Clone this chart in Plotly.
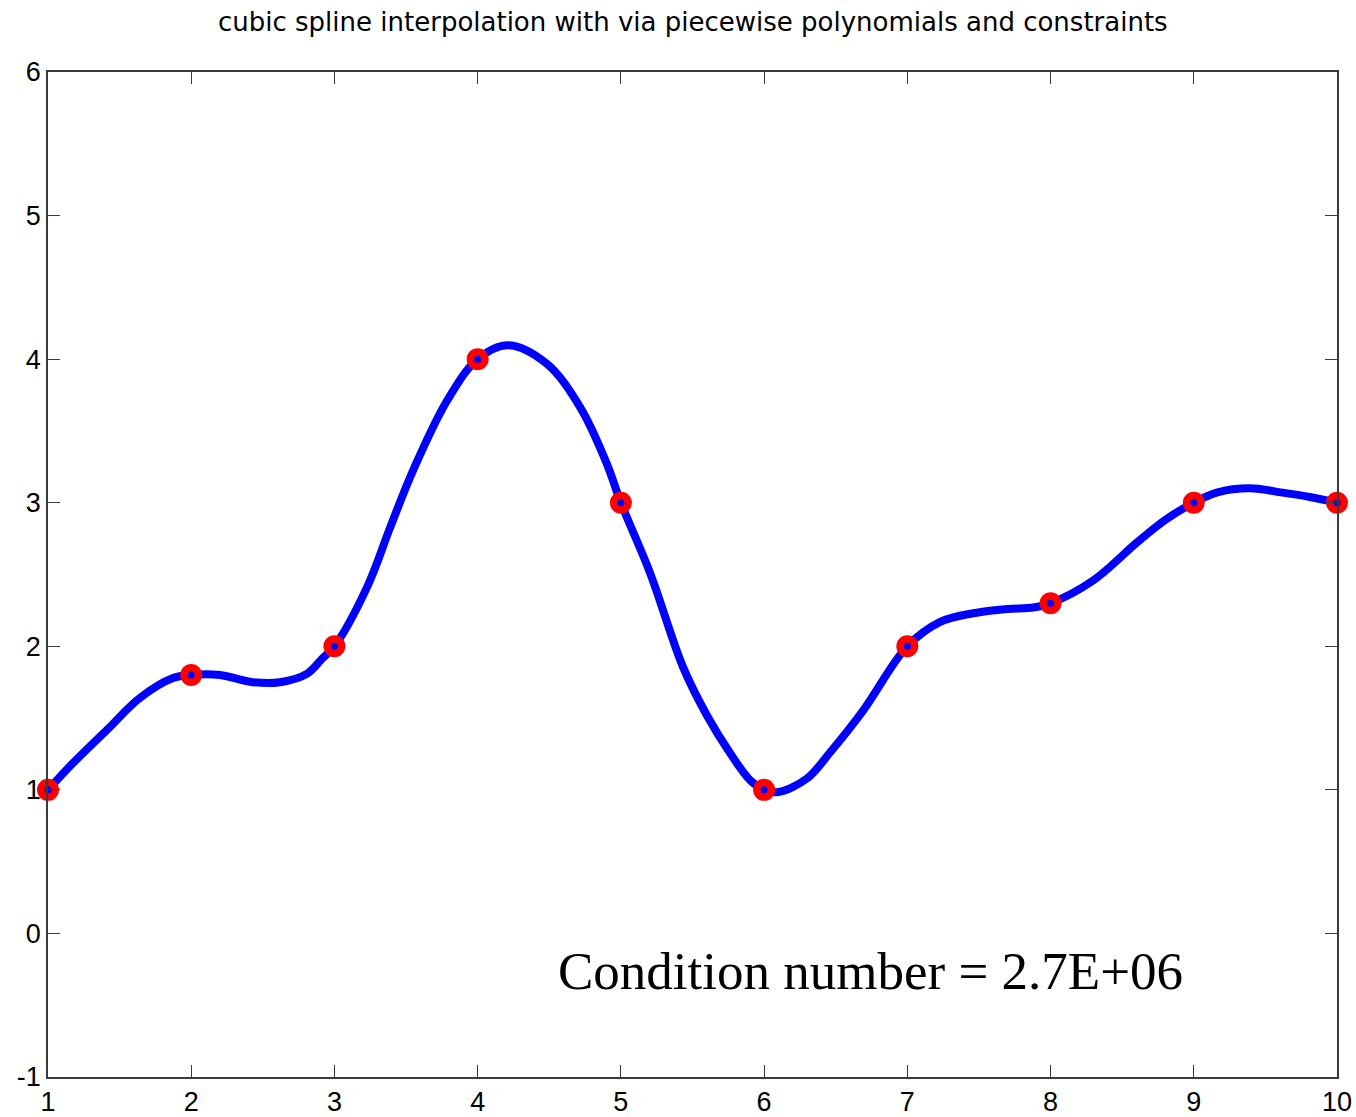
import plotly.graph_objects as go

# knot data
knot_x = [1, 2, 3, 4, 5, 6, 7, 8, 9, 10]
knot_y = [1, 1.8, 2, 4, 3, 1, 2, 2.3, 3, 3]

# spline curve
curve_x = [1, 1.175, 1.41, 1.64, 1.873, 2, 2.2, 2.43, 2.62, 2.81, 2.92, 3,
           3.228, 3.39, 3.55, 3.786, 4, 4.21, 4.48, 4.715, 4.9, 5,
           5.204, 5.434, 5.6, 5.76, 5.9, 6, 6.1, 6.3, 6.46, 6.69, 7,
           7.23, 7.46, 7.7, 7.88, 8, 8.3, 8.6, 8.8, 9,
           9.16, 9.39, 9.62, 9.81, 10]
curve_y = [1, 1.187, 1.416, 1.639, 1.779, 1.8, 1.8, 1.75, 1.75, 1.81, 1.92, 2,
           2.412, 2.83, 3.227, 3.71, 4, 4.097, 3.97, 3.666, 3.276, 3,
           2.51, 1.855, 1.52, 1.26, 1.07, 1, 0.985, 1.08, 1.26, 1.55, 2,
           2.17, 2.23, 2.26, 2.27, 2.3, 2.46, 2.72, 2.88, 3,
           3.07, 3.1, 3.07, 3.04, 3]

x_ticks = [1, 2, 3, 4, 5, 6, 7, 8, 9, 10]
y_ticks = [-1, 0, 1, 2, 3, 4, 5, 6]

title_text = "cubic spline interpolation with via piecewise polynomials and constraints"
note_text = "Condition number = 2.7E+06"

fig = go.Figure()
fig.add_trace(go.Scatter(x=curve_x, y=curve_y, mode="lines",
                         line=dict(color="#0000FF", width=8, shape="spline", smoothing=1.0),
                         hoverinfo="skip", showlegend=False, cliponaxis=False))
fig.add_trace(go.Scatter(x=knot_x, y=knot_y, mode="markers",
                         marker=dict(color="#FF0000", size=22, line=dict(width=0)),
                         showlegend=False, cliponaxis=False))
fig.add_trace(go.Scatter(x=knot_x, y=knot_y, mode="markers",
                         marker=dict(color="#0000FF", size=7, line=dict(width=0)),
                         showlegend=False, cliponaxis=False))

axis_common = dict(showgrid=False, zeroline=False, showline=True, mirror="allticks",
                   linecolor="#3a3a3a", linewidth=1.5, ticks="inside", ticklen=12,
                   tickwidth=1.2, tickcolor="#3a3a3a", automargin=False,
                   tickfont=dict(family="Liberation Sans, Arial, sans-serif", size=27, color="#000"))

fig.update_xaxes(range=[1, 10], tickvals=x_ticks, ticktext=[str(v) for v in x_ticks], **axis_common)
fig.update_yaxes(range=[-1, 6], tickvals=y_ticks, ticktext=[str(v) for v in y_ticks], **axis_common)

fig.add_annotation(text=title_text, xref="paper", yref="paper", x=0.5, y=1,
                   yshift=50, xanchor="center", yanchor="middle", showarrow=False,
                   font=dict(family="DejaVu Sans, sans-serif", size=26, color="#000"))
fig.add_annotation(text=note_text, xref="x", yref="y", x=6.74, y=-0.26,
                   xanchor="center", yanchor="middle", showarrow=False,
                   font=dict(family="Liberation Serif, Times New Roman, serif", size=53, color="#000"))

fig.update_layout(width=1356, height=1117, autosize=False,
                  margin=dict(l=48, r=19, t=72, b=40),
                  paper_bgcolor="white", plot_bgcolor="white")

fig.write_html("out.html")
